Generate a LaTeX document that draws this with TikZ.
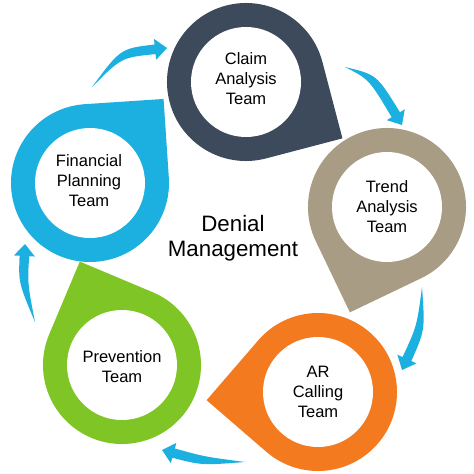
\documentclass[tikz,border=0pt]{standalone}
\usepackage{fontspec}
\setmainfont{Liberation Sans}
\usetikzlibrary{calc}
\definecolor{cslate}{HTML}{3D4A5B}
\definecolor{ctan}{HTML}{A89C85}
\definecolor{corange}{HTML}{F47A20}
\definecolor{cgreen}{HTML}{7EC525}
\definecolor{ccyan}{HTML}{1BB0E0}
% teardrop ring: center name, tip angle, colour
\newcommand{\tdrop}[3]{%
  \fill[#3] ([shift={(#1)}]{#2+45}:79) arc[start angle={#2+45}, end angle={#2+315}, radius=79]
     -- ([shift={(#1)}]{#2}:111.7) -- cycle;
  \fill[white] (#1) circle[radius=55];
}
% tapered curved arrow: tail, control, tip
\newcommand{\carrow}[3]{%
  \coordinate (hb) at ($(#3)!12pt!(#2)$);
  \fill[ccyan] (#1) .. controls ($(#2)!4.5pt!90:(#3)$) .. ($(hb)!4.8pt!90:(#3)$)
     -- ($(hb)!10.5pt!90:(#3)$) -- (#3) -- ($(hb)!10.5pt!-90:(#3)$)
     -- ($(hb)!4.8pt!-90:(#3)$) .. controls ($(#2)!4.5pt!-90:(#3)$) .. (#1) -- cycle;
}
\tikzset{lbl/.style={align=center, font=\fontsize{16.5}{20}\selectfont, inner sep=0pt},
         title/.style={align=center, font=\fontsize{22.3}{25.5}\selectfont, inner sep=0pt}}
\begin{document}
\begin{tikzpicture}[x=1pt,y=-1pt]
\useasboundingbox (0,0) rectangle (474,474);
\fill[white] (0,0) rectangle (474,474);
% centres
\coordinate (claim) at (246,82);
\coordinate (trend) at (387,207);
\coordinate (ar) at (318,392);
\coordinate (prev) at (122,365);
\coordinate (fin) at (90,183);
% rings
\tdrop{claim}{30.3}{cslate}
\tdrop{trend}{109.4}{ctan}
\tdrop{ar}{175.8}{corange}
\tdrop{prev}{247.8}{cgreen}
\tdrop{fin}{311.2}{ccyan}
% labels
\node[lbl] (claimt) at (246,78.5) {Claim\\Analysis\\Team};
\node[lbl] (trendt) at (387,207) {Trend\\Analysis\\Team};
\node[lbl] (art) at (318,391.5) {AR\\Calling\\Team};
\node[lbl] (prevt) at (122,366.5) {Prevention\\Team};
\node[lbl] (fint) at (89,181) {Financial\\Planning\\Team};
\node[title] (dm) at (233,238) {Denial\\Management};
% arrows
\coordinate (t1) at (92,87);   \coordinate (q1) at (121,53);  \coordinate (p1) at (167,48);
\coordinate (t2) at (345,67);  \coordinate (q2) at (373,77);  \coordinate (p2) at (402,125);
\coordinate (t3) at (422,287); \coordinate (q3) at (421,328); \coordinate (p3) at (402,370);
\coordinate (t4) at (245,462); \coordinate (q4) at (203,461); \coordinate (p4) at (162,450);
\coordinate (t5) at (35,322);  \coordinate (q5) at (23,283);  \coordinate (p5) at (25,244);
\carrow{t1}{q1}{p1}
\carrow{t2}{q2}{p2}
\carrow{t3}{q3}{p3}
\carrow{t4}{q4}{p4}
\carrow{t5}{q5}{p5}
\end{tikzpicture}
\end{document}
